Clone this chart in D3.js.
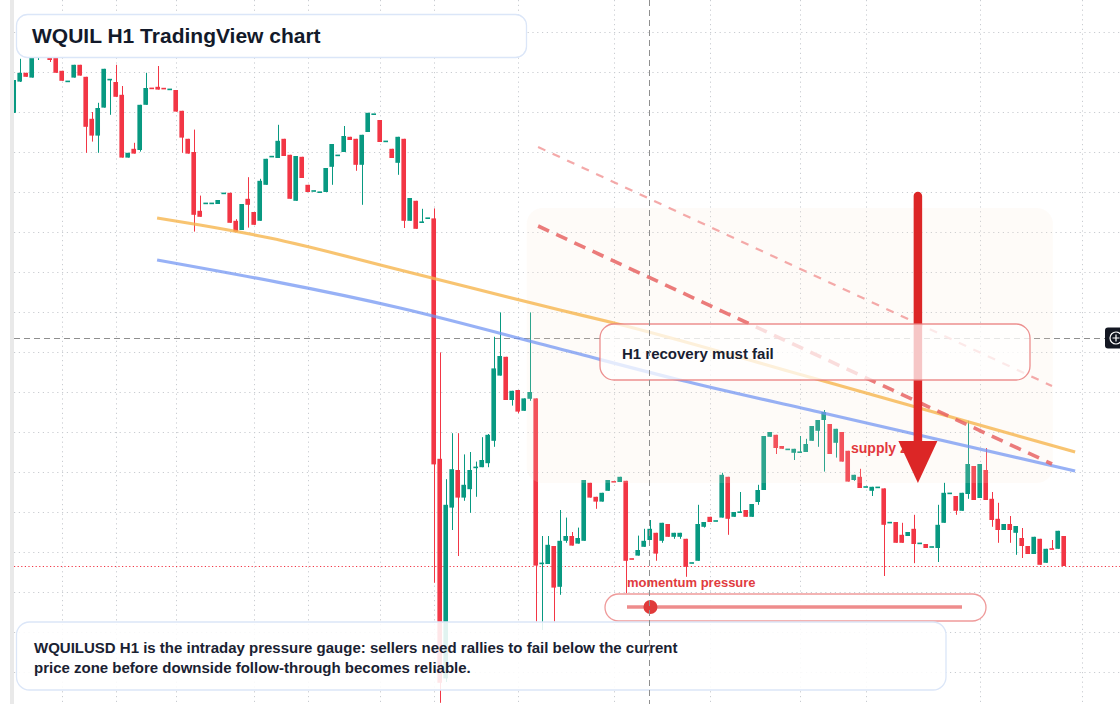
<!DOCTYPE html>
<html><head><meta charset="utf-8">
<script src="https://cdn.jsdelivr.net/npm/d3@7"></script>
<style>html,body{margin:0;padding:0;background:#fff;overflow:hidden}svg{display:block}</style>
</head><body><svg id="c" width="1120" height="704"></svg>
<script>
// ---- data (hourly candles, price units) ----
const openP  = [149.8,157.6,159.8,158.6,163.5,166.8,165.0,165.0,160.3,157.6,158.6,161.8,158.8,148.3,144.1,151.1,158.0,157.5,154.3,138.6,140.8,140.5,151.8,156,156.3,155.9,155.6,155.5,150.3,143.3,140,125.3,127.1,127.1,127,129.6,129.8,122.8,120.5,128.3,125,122.8,131.8,138.8,138.5,143.3,139.3,127.8,138.8,131.8,130.2,129.9,130,136.3,139.1,140,143.8,143.3,136.8,145,149.4,148,142.6,140.8,137.3,143.3,122.8,127.8,122.4,123.4,123.4,63.3,8.4,51.1,60.5,53.6,55.7,61.1,61.2,62.2,67.8,84.1,88.8,78,80.5,75.3,78.3,78.4,37.1,37,41.5,31.3,42.8,44,42.1,42.8,57.3,53.8,52.6,55.3,57.6,57.5,57.8,38.3,39.1,41.3,43,44.8,42.8,47,43.8,43.8,43.3,37.2,37.8,46.3,48.8,47.7,48.6,58.8,48.8,49.9,50.5,48.8,52.5,55.5,68.8,69.3,66.5,65.6,64.8,64.9,65,67.8,70.3,73,72,67.3,70,65.3,58,58.8,56.2,55.3,56.1,55.9,47.3,47.5,44.3,44,45.8,42.1,42,41.2,41,47.3,54.6,54,50.3,54.5,61.5,53.5,60.5,53.3,48.3,45.5,47,44.8,43.5,41.5,39.5,43.3,37.3,40.8,40.8,44];
const highP  = [158,163.3,159.8,163.5,168,167.5,165.5,165.5,160.3,157.7,161.8,161.8,158.8,150,152.3,160.8,158.2,161.8,156.5,139.8,142.3,151.8,159.8,156,161.5,155.9,155.7,155.5,150.3,143.3,145.6,129.1,127.2,127.2,128,129.7,129.8,123.2,127,133.7,125,133.3,138.3,138.9,146.8,143.3,139.3,139,138.8,131.8,130.3,130,136,142,139.2,146.5,143.8,143.3,144.3,149.8,149.5,148,142.7,140.8,143.8,143.3,128.5,127.8,125.8,123.5,125.9,89.9,58.2,69.7,69.7,64.4,65,62.6,68.7,69.5,93.8,99.9,88.8,80.3,80.5,78.4,99.9,78.4,44,44,41.5,50.5,48.6,45,46.1,58,57.3,53.8,54.8,58,57.6,58.8,57.8,38.3,44.1,45.8,48,44.8,47.3,47,44.8,44.8,43.3,37.3,51.8,47.5,48.8,47.8,59.8,58.8,50,55,50.5,52,56.8,69,70,69.3,66.5,65.7,65.8,69,68.3,71.5,73,75.5,72,70.8,70,65.3,59.3,60.8,56.3,56.3,56.2,55.9,47.4,47.5,47.3,45,49.3,42.2,42,41.3,51.8,57.3,54.7,54,54.8,72.8,61.5,62,66,55,52.3,47,49,46.5,46,41.5,43.8,43.3,40.8,43,45.3,44];
const lowP   = [149.8,157.5,158.8,158.6,163,164.5,162.5,159.8,157.8,157.6,158.6,159.1,139.8,142.6,139.8,151.1,149.3,153.8,138.6,138.6,139.6,140.1,151.8,155.8,155.6,155.8,155.6,150.1,139.8,139.6,120.1,123.8,127.1,127.1,127,129.6,122.3,120.1,120.5,121.1,121.8,122.8,131.8,138.8,138.5,139,128.3,127.8,133.5,130,130.2,129.9,130,131.8,139.1,140,143,135.3,126.8,145,149.4,142.5,142.6,138.5,134.3,121,122.8,120.8,122.4,123.4,32.3,2.3,7.5,45.5,39,52.8,49.8,53.8,61.2,61.2,66.3,84.1,78,76.6,74.7,75.3,77.8,22.6,20.5,37,22.6,29.3,42.3,41.6,42.1,42.8,53.6,50.8,52.6,55.3,57.5,57.5,29.7,38.2,39.1,41.3,43,37.8,42.3,43.8,43.3,43.3,33.8,37.2,37.8,46.1,47.5,47.7,48.6,44.3,48.8,49.9,48.8,48.8,51.8,55.5,68.8,64.5,65.8,65.6,63,64.9,65,67.8,66.3,60.1,64.5,63.6,62.6,57.6,57.8,56,56.2,54,56.1,34,47.3,42.3,42.3,44,37.2,42.1,41,41.2,37.5,47.3,54.6,49.3,50.3,53.3,53,53.5,53,46.3,42.3,45.5,42.3,39.3,38.5,39.5,39.5,36.8,37.3,40.7,40.8,36.5];
const closeP = [158,159.8,158.8,163.5,166.8,165.0,163.0,159.8,157.8,157.7,161.8,159.1,146.3,144.1,151,160.8,158.2,153.8,138.6,139.8,139.6,151.8,156,155.8,155.6,155.8,155.7,150.1,143.6,139.6,124.3,123.8,127.2,127.2,128,129.7,122.3,120.1,127,126.8,121.8,132.8,138.3,138.9,142.8,139,128.3,139,133.5,130,130.3,130,136,142,139.2,144,143,136.8,144.3,149.8,149.5,142.5,142.7,138.5,143.8,122.8,128.5,120.8,122.5,123.5,61.9,7.3,51.8,60.7,53.6,56.8,60.5,61.2,63,69.3,85.9,89,78,80.3,75.1,78.4,80,36.6,37.2,41.8,31.1,42.8,44,41.6,43.5,58,53.6,52.6,54.8,58,57.5,58.8,37.8,38.2,40.5,42.8,45.8,39.6,47.3,43.8,44.8,44.8,36.3,37.3,47,47.5,47.5,47.8,59.3,48.3,50,50,48.8,52,55.5,69,70,66,65.8,65.7,65.8,65,67,71.5,73,75,64.5,70.8,62.6,57.6,59.3,56,56.3,56.3,56.2,46.8,47.4,42.3,42.3,45,42,42.2,41,41.3,46.8,54.8,54.7,50.3,54.8,62,53,62,53,48,45.5,47,45.5,46.5,41.5,39.5,43.8,36.8,40.8,40.7,45.3,36.5];

const priceGrid = [10,20,30,40,50,60,70,80,90,100,110,120,130,140,150,160,170];
const timeGrid  = [8,17,27,40,49,61,70,84,100,116,131,142,161,178];

const orangeIdx = [23.9,31.05,42.7,64.4,91.05,100.05,133.2,176.9];
const orangeVal = [123.5,121.75,118.5,110.5,100.5,97.25,83.5,65];
const blueIdx   = [23.9,64.4,91.05,111.05,134.9,176.9];
const blueVal   = [113,101,90.75,83,74.75,60.25];
const lightDashIdx = [87.4,173.05];
const lightDashVal = [141.25,81.5];
const strongDashIdx = [87.4,173.05];
const strongDashVal = [121.5,62];
const zoneIdx = [85.5,173.2];
const zoneVal = [57.25,126];
const arrowIdx = [150.7];
const arrowVal = [129,57.25];
const crossIdx = [106];
const crossVal = [93.5];
const momentum = [0.07];

const titleText = "WQUIL H1 TradingView chart";
const noteLines = ["WQUILUSD H1 is the intraday pressure gauge: sellers need rallies to fail below the current",
                   "price zone before downside follow-through becomes reliable."];
const boxText = "H1 recovery must fail";
const zoneText = "supply zone";
const gaugeText = "momentum pressure";

// ---- setup ----
const W = 1120, H = 704;
const UP = "#089981", DN = "#f23645";
const FONT = "'Liberation Sans', Arial, Helvetica, sans-serif";
const svg = d3.select("#c");
const x = d3.scaleLinear().domain([0,175]).range([13.7,1063.7]);
const y = d3.scaleLinear().domain([0,178]).range([712,0]);
const candles = openP.map((o,i)=>({i,o,h:highP[i],l:lowP[i],c:closeP[i]}));

svg.append("rect").attr("width",W).attr("height",H).attr("fill","#fff");
svg.append("rect").attr("x",10).attr("y",0).attr("width",4).attr("height",H).attr("fill","#e9e9e9");

const defs = svg.append("defs");
defs.append("clipPath").attr("id","plot").append("rect").attr("x",14).attr("y",0).attr("width",W-14).attr("height",H);

// grid
const grid = svg.append("g").attr("stroke","#c9ccd1").attr("stroke-width",1).attr("stroke-dasharray","1.2,3.6");
grid.selectAll("line.h").data(priceGrid).join("line").attr("class","h")
  .attr("x1",14).attr("x2",W).attr("y1",d=>Math.round(y(d))+0.5).attr("y2",d=>Math.round(y(d))+0.5);
grid.selectAll("line.v").data(timeGrid).join("line").attr("class","v")
  .attr("x1",d=>Math.round(x(d))+0.5).attr("x2",d=>Math.round(x(d))+0.5).attr("y1",0).attr("y2",H);

// horizontal crosshair
svg.append("line").attr("x1",14).attr("x2",1105).attr("y1",Math.round(y(crossVal[0]))+0.5).attr("y2",Math.round(y(crossVal[0]))+0.5)
  .attr("stroke","#8f8f8f").attr("stroke-dasharray","6,4").attr("stroke-width",1);

// last price line
const lastY = y(closeP[closeP.length-1]);
svg.append("line").attr("x1",14).attr("x2",W).attr("y1",Math.round(lastY)+0.5).attr("y2",Math.round(lastY)+0.5)
  .attr("stroke",DN).attr("stroke-width",1).attr("stroke-dasharray","1.2,2.4");

// candles
const bw = (x(1)-x(0))*0.77;
const cg = svg.append("g").attr("clip-path","url(#plot)");
const cs = cg.selectAll("g").data(candles).join("g")
  .attr("fill",d=>d.c>=d.o?UP:DN).attr("stroke",d=>d.c>=d.o?UP:DN);
cs.append("line").attr("x1",d=>Math.round(x(d.i))+0.5).attr("x2",d=>Math.round(x(d.i))+0.5)
  .attr("y1",d=>y(d.h)).attr("y2",d=>y(d.l)).attr("stroke-width",1);
cs.append("rect").attr("stroke","none")
  .attr("x",d=>x(d.i)-bw/2).attr("width",bw)
  .attr("y",d=>{const t=y(Math.max(d.o,d.c)), b=y(Math.min(d.o,d.c)); return b-t<1.6?(t+b)/2-0.8:t;})
  .attr("height",d=>Math.max(1.6,y(Math.min(d.o,d.c))-y(Math.max(d.o,d.c))));

// supply zone (soft overlay)
svg.append("rect").attr("x",x(zoneIdx[0])).attr("y",y(zoneVal[1]))
  .attr("width",x(zoneIdx[1])-x(zoneIdx[0])).attr("height",y(zoneVal[0])-y(zoneVal[1]))
  .attr("rx",16).attr("fill","#f6e4d6").attr("opacity",0.16);

// trend lines
const lineGen = d3.line().x(d=>x(d[0])).y(d=>y(d[1])).curve(d3.curveMonotoneX);
svg.append("path").attr("d",lineGen(orangeIdx.map((v,k)=>[v,orangeVal[k]])))
  .attr("fill","none").attr("stroke","#f6b54e").attr("stroke-opacity",0.8).attr("stroke-width",3.2);
svg.append("path").attr("d",lineGen(blueIdx.map((v,k)=>[v,blueVal[k]])))
  .attr("fill","none").attr("stroke","#6f93f3").attr("stroke-opacity",0.72).attr("stroke-width",3.2);
const straight = d3.line().x(d=>x(d[0])).y(d=>y(d[1]));
svg.append("path").attr("d",straight(lightDashIdx.map((v,k)=>[v,lightDashVal[k]])))
  .attr("fill","none").attr("stroke","#f29a9a").attr("stroke-opacity",0.85).attr("stroke-width",2.2).attr("stroke-dasharray","8,8");
svg.append("path").attr("d",straight(strongDashIdx.map((v,k)=>[v,strongDashVal[k]])))
  .attr("fill","none").attr("stroke","#e86464").attr("stroke-opacity",0.85).attr("stroke-width",3.6).attr("stroke-dasharray","12,8");

// supply zone label
svg.append("text").attr("x",851).attr("y",453).attr("font-family",FONT).attr("font-weight","bold")
  .attr("font-size",14).attr("fill","#e2383d").text(zoneText);

// red arrow
const ax = x(arrowIdx[0]), aTop = y(arrowVal[0]), aTip = y(arrowVal[1]);
svg.append("line").attr("x1",ax).attr("x2",ax).attr("y1",aTop).attr("y2",aTip-36)
  .attr("stroke","#dc2626").attr("stroke-width",8.5).attr("stroke-linecap","round");
svg.append("path").attr("d",`M${ax-19.5},${aTip-42}L${ax+19.5},${aTip-42}L${ax},${aTip}Z`).attr("fill","#dc2626");

// H1 recovery box
svg.append("rect").attr("x",600).attr("y",324).attr("width",430).attr("height",56).attr("rx",14)
  .attr("fill","#fff").attr("fill-opacity",0.74).attr("stroke","#e97b7b").attr("stroke-opacity",0.85).attr("stroke-width",1.3);
svg.append("text").attr("x",622).attr("y",359).attr("font-family",FONT).attr("font-weight","bold")
  .attr("font-size",15).attr("fill","#182031").text(boxText);

// momentum gauge
svg.append("text").attr("x",627).attr("y",587).attr("font-family",FONT).attr("font-weight","bold")
  .attr("font-size",13).attr("fill","#e13b40").text(gaugeText);
svg.append("rect").attr("x",605).attr("y",594).attr("width",381).attr("height",27).attr("rx",13.5)
  .attr("fill","#fff").attr("fill-opacity",0.9).attr("stroke","#ef9a9a").attr("stroke-width",1.3);
const g = d3.scaleLinear().domain([0,1]).range([627,962]);
svg.append("line").attr("x1",g(0)).attr("x2",g(1)).attr("y1",607).attr("y2",607)
  .attr("stroke","#ec7f7f").attr("stroke-opacity",0.9).attr("stroke-width",3.5);
svg.append("circle").attr("cx",g(momentum[0])).attr("cy",607).attr("r",7).attr("fill","#e03a3a");

// title box
svg.append("rect").attr("x",16.5).attr("y",14.5).attr("width",510).attr("height",43).attr("rx",11)
  .attr("fill","#fff").attr("stroke","#dbe6f8").attr("stroke-width",1.3);
svg.append("text").attr("x",32).attr("y",43).attr("font-family",FONT).attr("font-weight","bold")
  .attr("font-size",21).attr("fill","#131a2a").text(titleText);

// note box
svg.append("rect").attr("x",16.5).attr("y",622).attr("width",929.5).attr("height",68).attr("rx",13)
  .attr("fill","#fff").attr("fill-opacity",0.88).attr("stroke","#dbe6f8").attr("stroke-width",1.3);
svg.selectAll("text.note").data(noteLines).join("text").attr("class","note")
  .attr("x",34).attr("y",(d,k)=>653+k*20).attr("font-family",FONT).attr("font-weight","bold")
  .attr("font-size",15).attr("fill","#1a2232").text(d=>d);

// vertical crosshair
svg.append("line").attr("x1",Math.round(x(crossIdx[0]))-0.5).attr("x2",Math.round(x(crossIdx[0]))-0.5).attr("y1",0).attr("y2",H)
  .attr("stroke","#8f8f8f").attr("stroke-dasharray","6,4").attr("stroke-width",1);

// crosshair price-axis button
const cy0 = y(crossVal[0]);
svg.append("rect").attr("x",1105).attr("y",cy0-10.5).attr("width",24).attr("height",21).attr("rx",3).attr("fill","#131722");
svg.append("circle").attr("cx",1116).attr("cy",cy0).attr("r",6).attr("fill","none").attr("stroke","#fff").attr("stroke-width",1.2);
svg.append("path").attr("d",`M1112.5,${cy0}H1119.5M1116,${cy0-3.5}V${cy0+3.5}`).attr("stroke","#fff").attr("stroke-width",1.2);
</script></body></html>
